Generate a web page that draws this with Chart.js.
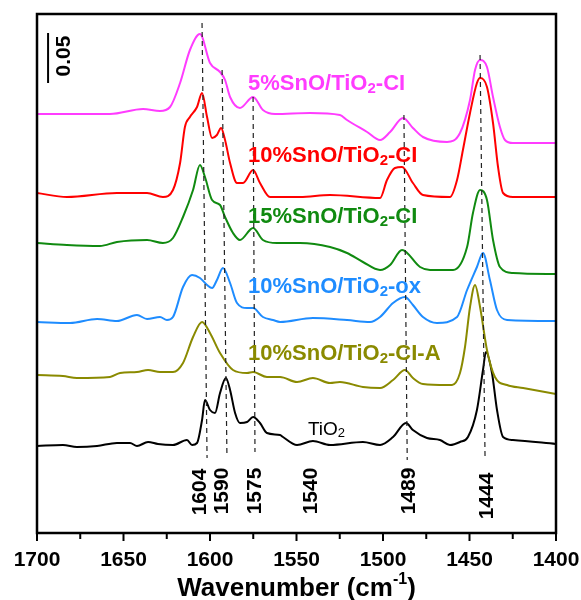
<!DOCTYPE html>
<html>
<head>
<meta charset="utf-8">
<script src="https://cdn.jsdelivr.net/npm/chart.js@4.4.0/dist/chart.umd.min.js"></script>
<style>
  html, body { margin: 0; padding: 0; background: #fff; }
  canvas { display: block; }
</style>
</head>
<body>
<canvas id="ftir" width="581" height="600"></canvas>
<script>
// stacked DRIFT spectra, absorbance in arbitrary units (0.05 abs ~ 50 units)
const wn5 = [1700,1675,1657.8,1638.7,1628.9,1623.1,1617.3,1611.6,1605.8,1600,1594.2,1591.3,1588.4,1582.7,1575.1,1569.4,1562.4,1542.2,1524.9,1520.8,1509.2,1501.7,1495.9,1488.4,1482.7,1476.9,1463,1455.5,1449.7,1446.8,1443.9,1439.9,1436.4,1432.4,1429.5,1424.9,1400];
const ab5 = [419,419,419,424,422,426,450,483,499,470,461,453,436,425,436,423,419,420,418,413,401,393,401,415,405,396,391,400,433,463,473,466,436,406,393,390,390];

const wn10 = [1700,1682.7,1653.8,1636.4,1627.2,1621.4,1617.3,1614.5,1611.6,1607.5,1604.6,1601.7,1598.8,1596,1593.6,1591.3,1588.4,1584.4,1580.9,1575.1,1571.1,1565.3,1548,1530.6,1501.7,1497.7,1493.1,1489,1482.7,1476.9,1461.3,1457.2,1453.8,1449.7,1445.7,1443.9,1439.9,1436.4,1433.5,1430.6,1424.9,1400];
const ab10 = [340,336,340,340,336,343,370,406,416,426,440,416,395,398,405,393,370,350,350,363,350,336,336,338,335,353,365,366,350,338,336,353,383,420,450,455,446,410,366,340,336,336];

const wn15 = [1700,1682.7,1663.6,1653.8,1636.4,1627.2,1621.4,1615.6,1609.8,1605.8,1602.9,1598.8,1594.2,1591.3,1586.7,1582.7,1575.1,1569.4,1561.3,1548,1530.6,1520.8,1511.6,1501.7,1495.9,1489,1478.6,1472.8,1459.5,1451.4,1448,1443.9,1439.9,1436.4,1432.4,1424.9,1400];
const ab15 = [290,288,287,291,293,290,295,316,343,368,356,333,328,316,300,293,305,293,290,290,286,280,271,263,268,283,266,263,263,286,320,343,333,293,266,260,259];

const wnOx = [1700,1680.9,1665.3,1653.8,1642.2,1636.4,1628.9,1624.9,1621.4,1615.6,1610.4,1605.8,1601.7,1598.8,1596,1592.5,1588.4,1584.4,1578.6,1575.1,1569.4,1563.6,1559.5,1540.5,1520.8,1507.5,1501.7,1494.2,1487.3,1482.7,1476.9,1468.8,1457.2,1451.4,1445.7,1442.2,1438.2,1434.1,1428.3,1400];
const abOx = [211,210,214,212,218,214,216,213,216,246,258,255,248,245,253,265,250,230,225,225,216,213,211,215,213,211,216,230,236,228,216,210,216,243,266,280,253,223,213,212];

const wnA = [1700,1685,1676.9,1657.8,1652,1642.2,1635.8,1628.9,1621.4,1615.6,1609.8,1604.6,1600,1594.2,1586.7,1578.6,1575.1,1567.1,1559.5,1549.7,1540.5,1530.6,1524.9,1511.6,1501.7,1494.2,1487.3,1482.7,1476.9,1463,1460.1,1455.5,1452.6,1449.7,1446.8,1443.9,1439.9,1435.3,1428.3,1419,1400];
const abA = [158,157,155,156,160,161,163,161,161,170,196,211,200,180,163,160,161,156,156,151,155,150,151,146,145,153,163,155,149,148,148,160,186,226,248,226,183,156,148,145,139];

const wnTi = [1700,1685,1676.9,1665.3,1653.8,1646.2,1642.2,1635.8,1630.1,1621.4,1613.3,1610.4,1607.5,1604.6,1602.9,1600,1597.1,1594.2,1590.8,1588.4,1585.5,1582.7,1578.6,1575.1,1571.1,1567.1,1559.5,1557.8,1549.7,1540.5,1530.6,1511.6,1501.7,1494.2,1486.7,1482.7,1474.6,1467.1,1461.3,1455.5,1450.9,1445.7,1442.2,1440.5,1437,1434.1,1430.6,1424.9,1400];
const abTi = [87,88,86,87,90,90,87,91,89,88,93,88,90,113,133,123,120,140,155,143,120,110,111,116,110,100,98,96,88,92,88,91,88,96,110,103,95,93,88,91,96,123,163,181,160,123,96,93,89];

const seriesNames = ['5%SnO/TiO_2-CI', '10%SnO/TiO_2-CI', '15%SnO/TiO_2-CI', '10%SnO/TiO_2-ox', '10%SnO/TiO_2-CI-A', 'TiO_2'];
const seriesColors = ['#ff3cff', '#ff0000', '#108a10', '#1e8cff', '#8a8a00', '#000000'];

// assigned bands: line top/bottom (wavenumber, absorbance)
const bandNames = ['1604', '1590', '1575', '1540', '1489', '1444'];
const bandTopX = [1604.6, 1593, 1575.1, null, 1487.9, 1443.9];
const bandBotX = [1601.7, 1590.2, 1574, null, 1486, 1441];
const bandTopY = [510, 463, 436, null, 418, 478];
const bandBotY = [75, 76, 81, null, 73, 73];

const xMin = 1400, xMax = 1700, xStep = 50, xMinor = 25;

const traces = [[wn5, ab5], [wn10, ab10], [wn15, ab15], [wnOx, abOx], [wnA, abA], [wnTi, abTi]];

const datasets = traces.map((t, i) => ({
    label: seriesNames[i],
    data: t[0].map((w, j) => ({ x: w, y: t[1][j] })),
    borderColor: seriesColors[i],
    borderWidth: 2,
    pointRadius: 0,
    cubicInterpolationMode: 'monotone',
    order: 1
}));

bandNames.forEach((b, i) => {
    if (bandTopX[i] === null) return;
    datasets.push({
        label: 'band ' + b,
        data: [{ x: bandTopX[i], y: bandTopY[i] }, { x: bandBotX[i], y: bandBotY[i] }],
        borderColor: '#222',
        borderWidth: 1.2,
        borderDash: [5, 4],
        pointRadius: 0,
        tension: 0,
        order: 0
    });
});

const FONT = '"Liberation Sans", Arial, sans-serif';

// text with a subscript after "_"
function drawSubText(ctx, text, x, y, size, bold) {
    const w = bold ? 'bold ' : '';
    const parts = text.split('_');
    let cx = x;
    parts.forEach((p, k) => {
        let s = p;
        if (k > 0) {
            ctx.font = w + Math.round(size * 0.68) + 'px ' + FONT;
            ctx.fillText(s[0], cx, y + size * 0.12);
            cx += ctx.measureText(s[0]).width;
            s = s.slice(1);
        }
        ctx.font = w + size + 'px ' + FONT;
        ctx.fillText(s, cx, y);
        cx += ctx.measureText(s).width;
    });
}

// label anchors: left x (wavenumber), baseline y (abs units)
const nameX = [1578, 1578, 1578, 1578, 1578, 1543.4];
const nameY = [443, 371, 310, 240, 173, 98];
const bandLabelX = [1605.8, 1593, 1574, 1541.6, 1485, 1440];
const bandLabelY = [41, 42, 42, 42, 42, 37];

const decor = {
    id: 'decor',
    afterDraw(chart) {
        const { ctx, chartArea: a } = chart;
        const xs = chart.scales.x, ys = chart.scales.y;
        ctx.save();

        // minor/major ticks outward at the bottom
        ctx.strokeStyle = '#000';
        ctx.lineWidth = 2;
        for (let v = xMin; v <= xMax; v += xMinor) {
            const px = xs.getPixelForValue(v);
            const len = (v % xStep === 0) ? 8 : 6;
            ctx.beginPath();
            ctx.moveTo(px, a.bottom);
            ctx.lineTo(px, a.bottom + len);
            ctx.stroke();
        }

        // frame
        ctx.lineWidth = 2.5;
        ctx.strokeRect(a.left, a.top, a.right - a.left, a.bottom - a.top);

        // scale bar 0.05
        const sbx = xs.getPixelForValue(1693.6);
        ctx.lineWidth = 2;
        ctx.beginPath();
        ctx.moveTo(sbx, ys.getPixelForValue(500));
        ctx.lineTo(sbx, ys.getPixelForValue(450));
        ctx.stroke();
        ctx.fillStyle = '#000';
        ctx.save();
        ctx.translate(xs.getPixelForValue(1684.4), ys.getPixelForValue(477));
        ctx.rotate(-Math.PI / 2);
        ctx.font = 'bold 21px ' + FONT;
        ctx.textAlign = 'center';
        ctx.textBaseline = 'middle';
        ctx.fillText('0.05', 0, 0);
        ctx.restore();

        // series names
        ctx.textAlign = 'left';
        ctx.textBaseline = 'alphabetic';
        seriesNames.forEach((n, i) => {
            ctx.fillStyle = seriesColors[i];
            const last = i === seriesNames.length - 1;
            drawSubText(ctx, n, xs.getPixelForValue(nameX[i]), ys.getPixelForValue(nameY[i]), last ? 19 : 22, !last);
        });

        // band labels, rotated
        ctx.fillStyle = '#000';
        ctx.font = 'bold 21px ' + FONT;
        ctx.textAlign = 'center';
        ctx.textBaseline = 'middle';
        bandNames.forEach((b, i) => {
            ctx.save();
            ctx.translate(xs.getPixelForValue(bandLabelX[i]), ys.getPixelForValue(bandLabelY[i]));
            ctx.rotate(-Math.PI / 2);
            ctx.fillText(b, 0, 0);
            ctx.restore();
        });

        // axis title with superscript
        ctx.textAlign = 'left';
        ctx.textBaseline = 'alphabetic';
        const main = 'Wavenumber (cm';
        ctx.font = 'bold 26px ' + FONT;
        const w1 = ctx.measureText(main).width;
        ctx.font = 'bold 16px ' + FONT;
        const w2 = ctx.measureText('-1').width;
        ctx.font = 'bold 26px ' + FONT;
        const w3 = ctx.measureText(')').width;
        let tx = (a.left + a.right) / 2 - (w1 + w2 + w3) / 2;
        const ty = chart.height - 4;
        ctx.fillText(main, tx, ty);
        tx += w1;
        ctx.font = 'bold 16px ' + FONT;
        ctx.fillText('-1', tx, ty - 12);
        tx += w2;
        ctx.font = 'bold 26px ' + FONT;
        ctx.fillText(')', tx, ty);

        ctx.restore();
    }
};

new Chart(document.getElementById('ftir'), {
    type: 'line',
    data: { datasets },
    options: {
        responsive: false,
        animation: false,
        devicePixelRatio: 1,
        layout: { padding: { left: 37, right: 25, top: 14, bottom: 0 } },
        plugins: { legend: { display: false }, tooltip: { enabled: false } },
        scales: {
            x: {
                type: 'linear',
                min: xMin,
                max: xMax,
                reverse: true,
                grid: { display: false, drawTicks: false },
                border: { display: false },
                ticks: {
                    stepSize: xStep,
                    autoSkip: false,
                    maxRotation: 0,
                    padding: 15,
                    color: '#000',
                    font: { family: FONT, size: 21, weight: 'bold' },
                    callback: v => String(v)
                },
                afterFit(scale) {
                    scale.height = 67;
                    scale.paddingLeft = 0;
                    scale.paddingRight = 0;
                }
            },
            y: {
                display: false,
                min: 0,
                max: 519
            }
        }
    },
    plugins: [decor]
});
</script>
</body>
</html>
